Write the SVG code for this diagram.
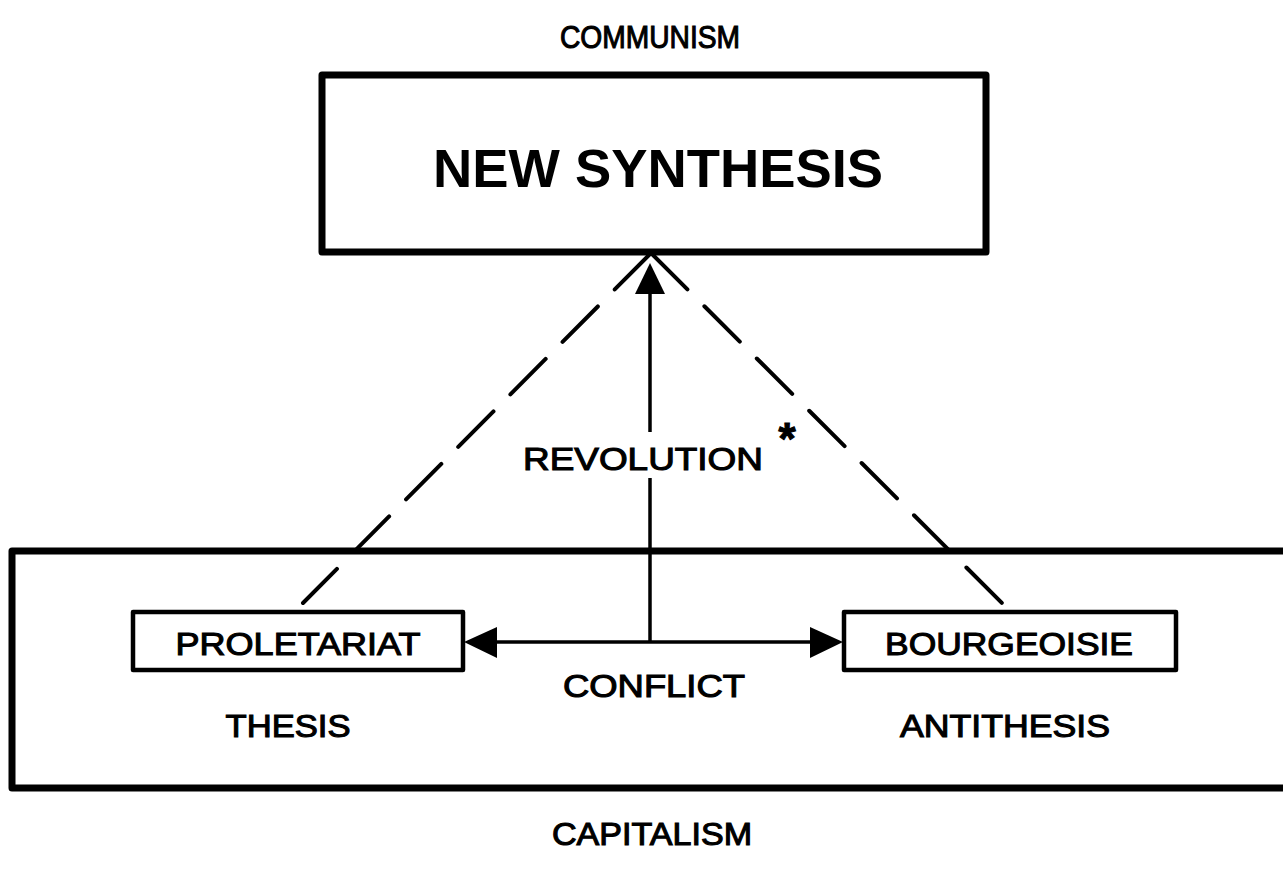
<svg xmlns="http://www.w3.org/2000/svg" width="1283" height="879" viewBox="0 0 1283 879">
<style>
  .lbl { font-family: "Liberation Sans", Arial, sans-serif; font-size: 32px; fill: #000; stroke: #000; stroke-width: 1.1px; text-anchor: middle; }
  .big { font-family: "Liberation Sans", Arial, sans-serif; font-size: 54px; font-weight: bold; fill: #000; text-anchor: middle; }
  .frame { fill: none; stroke: #000; stroke-width: 7; stroke-linejoin: round; }
  .box { fill: #fff; stroke: #000; stroke-width: 4.5; stroke-linejoin: round; }
  .line { fill: none; stroke: #000; stroke-width: 3.5; }
  .dash { fill: none; stroke: #000; stroke-width: 4; stroke-dasharray: 50 24; stroke-linecap: round; }
</style>
<rect width="1283" height="879" fill="#fff"/>

<g id="capitalism-frame">
  <rect class="frame" x="12" y="551" width="1300" height="237"/>
</g>

<g id="connectors">
  <line class="dash" x1="650" y1="254" x2="303" y2="603"/>
  <line class="dash" x1="652" y1="254" x2="1004" y2="605"/>
  <line class="line" x1="650" y1="290" x2="650" y2="432"/>
  <line class="line" x1="650" y1="478" x2="650" y2="642"/>
  <polygon points="650,263 635,294 665,294" fill="#000"/>
  <line class="line" x1="495" y1="642" x2="812" y2="642"/>
  <polygon points="464,642 497,627 497,658" fill="#000"/>
  <polygon points="843,642 810,627 810,658" fill="#000"/>
</g>

<g id="new-synthesis">
  <rect class="frame" x="322" y="75" width="664" height="177"/>
  <text class="big" x="658" y="187" textLength="450" lengthAdjust="spacingAndGlyphs">NEW SYNTHESIS</text>
</g>

<g id="proletariat">
  <rect class="box" x="133" y="612" width="330" height="58"/>
  <text class="lbl" x="298" y="655" textLength="245" lengthAdjust="spacingAndGlyphs">PROLETARIAT</text>
</g>

<g id="bourgeoisie">
  <rect class="box" x="844" y="612" width="332" height="58"/>
  <text class="lbl" x="1009" y="655" textLength="248" lengthAdjust="spacingAndGlyphs">BOURGEOISIE</text>
</g>

<g id="labels">
  <text class="lbl" x="650" y="48" textLength="180" lengthAdjust="spacingAndGlyphs">COMMUNISM</text>
  <text class="lbl" x="643" y="470" textLength="240" lengthAdjust="spacingAndGlyphs">REVOLUTION</text>
  <text class="lbl" x="787" y="454" style="font-size:44px;font-weight:bold">*</text>
  <text class="lbl" x="654" y="697" textLength="182" lengthAdjust="spacingAndGlyphs">CONFLICT</text>
  <text class="lbl" x="288" y="737" textLength="125" lengthAdjust="spacingAndGlyphs">THESIS</text>
  <text class="lbl" x="1005" y="737" textLength="210" lengthAdjust="spacingAndGlyphs">ANTITHESIS</text>
  <text class="lbl" x="652" y="845" textLength="200" lengthAdjust="spacingAndGlyphs">CAPITALISM</text>
</g>
</svg>
